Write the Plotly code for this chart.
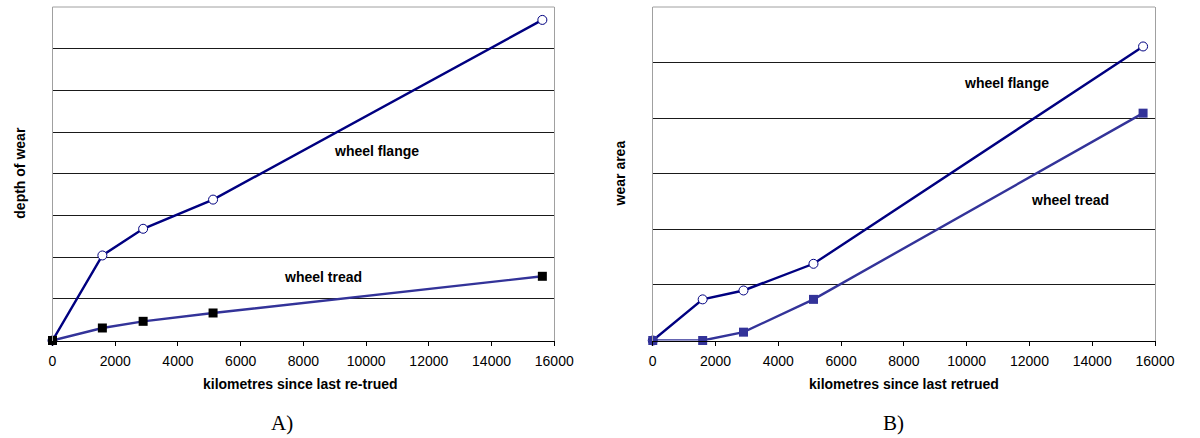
import plotly.graph_objects as go

# ---- data ----
km = [0, 1590, 2890, 5120, 15620]
depth_flange = [0, 2.04, 2.68, 3.38, 7.69]
depth_tread = [0, 0.30, 0.46, 0.66, 1.54]
area_flange = [0, 0.74, 0.90, 1.38, 5.29]
area_tread = [0, 0.0, 0.15, 0.74, 4.09]
x_ticks = [0, 2000, 4000, 6000, 8000, 10000, 12000, 14000, 16000]
x_tick_labels = [str(v) for v in x_ticks]

W, H = 1200, 438
FLANGE = "#000080"
TREAD = "#333399"
SANS = "Liberation Sans, Arial, sans-serif"
SERIF = "Liberation Serif, Times New Roman, serif"

fig = go.Figure()

# Panel A
fig.add_trace(go.Scatter(x=km, y=depth_flange, mode="lines+markers", xaxis="x", yaxis="y",
                         line=dict(color=FLANGE, width=2.4),
                         marker=dict(symbol="circle", size=9, color="white", line=dict(color=FLANGE, width=1)),
                         cliponaxis=False, showlegend=False))
fig.add_trace(go.Scatter(x=km, y=depth_tread, mode="lines+markers", xaxis="x", yaxis="y",
                         line=dict(color=TREAD, width=2.4),
                         marker=dict(symbol="square", size=9, color="black"),
                         cliponaxis=False, showlegend=False))
# Panel B
fig.add_trace(go.Scatter(x=km, y=area_flange, mode="lines+markers", xaxis="x2", yaxis="y2",
                         line=dict(color=FLANGE, width=2.4),
                         marker=dict(symbol="circle", size=9, color="white", line=dict(color=FLANGE, width=1)),
                         cliponaxis=False, showlegend=False))
fig.add_trace(go.Scatter(x=km, y=area_tread, mode="lines+markers", xaxis="x2", yaxis="y2",
                         line=dict(color=TREAD, width=2.4),
                         marker=dict(symbol="square", size=9, color=TREAD),
                         cliponaxis=False, showlegend=False))

ybot = 1 - 340.5 / H
ytop = 1 - 7 / H

xaxis_common = dict(range=[0, 16000], tickvals=x_ticks, ticktext=x_tick_labels, ticks="outside", ticklen=4,
                    tickcolor="black", showline=True, linecolor="black", linewidth=1, showgrid=False,
                    zeroline=False, tickfont=dict(family=SANS, size=14, color="black"), ticklabelstandoff=4)
yaxis_common = dict(showline=True, linecolor="#a0a0a0", linewidth=1, mirror=True, showticklabels=False,
                    ticks="", showgrid=True, gridcolor="#1a1a1a", gridwidth=1, dtick=1, zeroline=False)

fig.update_layout(
    width=W, height=H, margin=dict(l=0, r=0, t=0, b=0), autosize=False,
    paper_bgcolor="white", plot_bgcolor="white",
    xaxis=dict(domain=[49.5 / W, 561.5 / W], anchor="y", **xaxis_common),
    yaxis=dict(domain=[ybot, ytop], anchor="x", range=[0, 8], **yaxis_common),
    xaxis2=dict(domain=[662 / W, 1174.5 / W], anchor="y2", **xaxis_common),
    yaxis2=dict(domain=[ybot, ytop], anchor="x2", range=[0, 6], **yaxis_common),
)

# top borders (gray)
for xr, yr in [("x domain", "y domain"), ("x2 domain", "y2 domain")]:
    fig.add_shape(type="line", xref=xr, yref=yr, x0=0, x1=1, y0=1, y1=1,
                  line=dict(color="#a0a0a0", width=1))

bold14 = dict(family=SANS, size=14, color="black")
ann = [
    dict(text="<b>wheel flange</b>", x=10323, y=4.54, xref="x", yref="y", font=bold14),
    dict(text="<b>wheel tread</b>", x=8637, y=1.52, xref="x", yref="y", font=bold14),
    dict(text="<b>wheel flange</b>", x=11270, y=4.63, xref="x2", yref="y2", font=bold14),
    dict(text="<b>wheel tread</b>", x=13300, y=2.53, xref="x2", yref="y2", font=bold14),
    dict(text="<b>kilometres since last re-trued</b>", x=303 / W, y=1 - 384 / H, xref="paper", yref="paper", font=bold14),
    dict(text="<b>kilometres since last retrued</b>", x=918 / W, y=1 - 384 / H, xref="paper", yref="paper", font=bold14),
    dict(text="<b>depth of wear</b>", x=16 / W, y=1 - 173 / H, xref="paper", yref="paper", font=bold14, textangle=-90),
    dict(text="<b>wear area</b>", x=629 / W, y=1 - 173 / H, xref="paper", yref="paper", font=bold14, textangle=-90),
    dict(text="A)", x=284 / W, y=1 - 423 / H, xref="paper", yref="paper", font=dict(family=SERIF, size=21, color="black")),
    dict(text="B)", x=907.5 / W, y=1 - 423 / H, xref="paper", yref="paper", font=dict(family=SERIF, size=21, color="black")),
]
for a in ann:
    fig.add_annotation(showarrow=False, xanchor="center", yanchor="middle", **a)

fig.write_html("out.html", config={"displayModeBar": False, "responsive": False},
               post_script="document.body.style.margin='0';document.body.style.overflow='hidden';")
